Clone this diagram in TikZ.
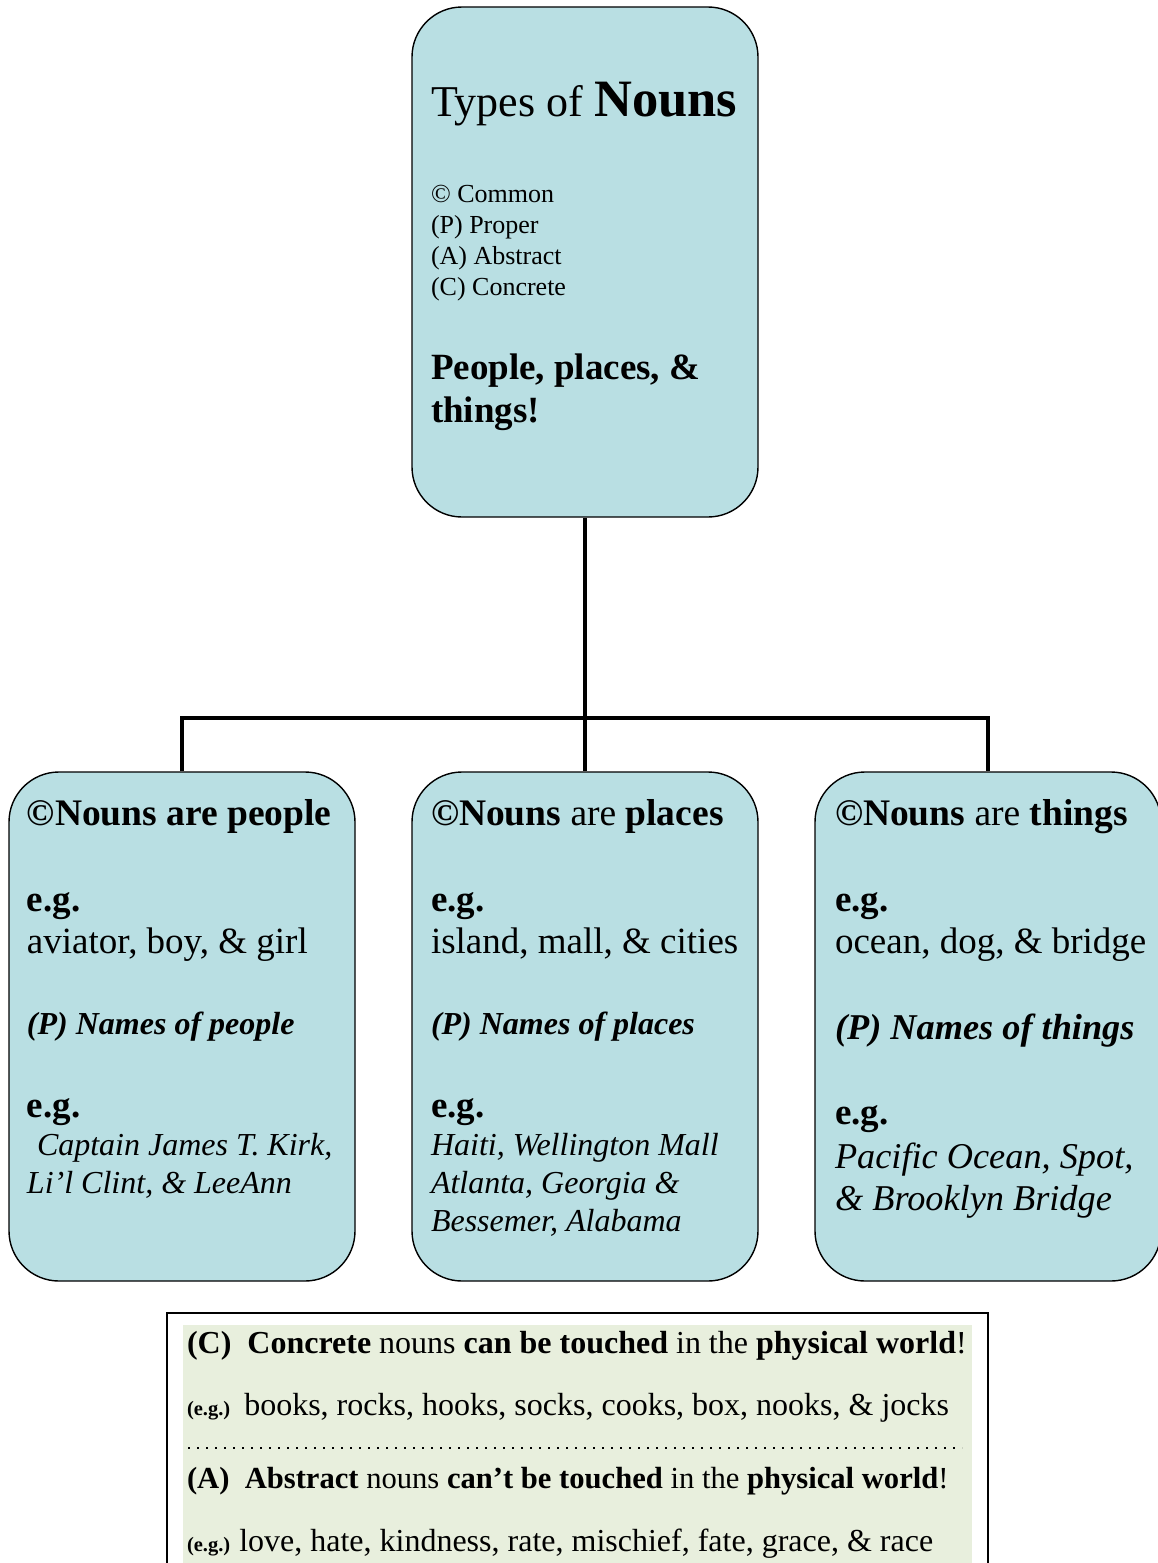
\documentclass[tikz,border=0pt]{standalone}
\usepackage{fontspec}
\setmainfont{Liberation Serif}
\usetikzlibrary{positioning}

\definecolor{nounblue}{RGB}{185,223,227}
\definecolor{notegreen}{RGB}{232,239,221}

\newcommand{\fs}[1]{\fontsize{#1}{#1}\selectfont}

\tikzset{
  nounbox/.style={draw, line width=1.4pt, fill=nounblue, rounded corners=50pt,
    minimum width=346pt, inner sep=0pt},
  branch/.style={line width=4pt},
  txt/.style={anchor=base west, inner sep=0pt, outer sep=0pt},
}

\begin{document}
\begin{tikzpicture}[x=1pt,y=-1pt]
    \useasboundingbox (0,0) rectangle (1157,1563);

    % the four boxes
    \node[nounbox, minimum height=510pt] (types)  at (585,262)    {};
    \node[nounbox, minimum height=509pt] (people) at (182,1026.5) {};
    \node[nounbox, minimum height=509pt] (places) at (585,1026.5) {};
    \node[nounbox, minimum height=509pt] (things) at (988,1026.5) {};

    % tree lines
    \coordinate (split) at (585,718);
    \draw[branch] (types.south) -- (split);
    \draw[branch] (people.north) |- (split) -| (things.north);
    \draw[branch] (split) -- (places.north);

    % top box
    \node[txt] (title) at (431,116) {\fs{44}Types of \fs{52.5}\bfseries Nouns};
    \foreach \kind [count=\i] in {\textcopyright\ Common, (P) Proper, (A) Abstract, (C) Concrete}
      \node[txt] (kind\i) at (431,171+31*\i) {\fs{26}\kind};
    \node[txt] (slogan1) at (431,379) {\fs{37}\bfseries People, places, \&};
    \node[txt] (slogan2) at (431,422) {\fs{37}\bfseries things!};

    % people
    \node[txt] (peoplehead) at (27,825)  {\fs{37.5}\bfseries \textcopyright Nouns are people};
    \node[txt] (peopleeg)   at (27,911)  {\fs{37}\bfseries e.g.};
    \node[txt] (peoplecom)  at (27,953)  {\fs{37}aviator, boy, \& girl};
    \node[txt] (peoplepro)  at (27,1034) {\fs{32}\bfseries\itshape (P) Names of people};
    \node[txt] (peopleeg2)  at (27,1117) {\fs{37}\bfseries e.g.};
    \node[txt] (peoplenam1) at (37,1155) {\fs{32}\itshape Captain James T. Kirk,};
    \node[txt] (peoplenam2) at (27,1193) {\fs{32}\itshape Li’l Clint, \& LeeAnn};

    % places
    \node[txt] (placeshead) at (431,825)  {\fs{37.5}\bfseries \textcopyright Nouns \mdseries are \bfseries places};
    \node[txt] (placeseg)   at (431,911)  {\fs{37}\bfseries e.g.};
    \node[txt] (placescom)  at (431,953)  {\fs{37}island, mall, \& cities};
    \node[txt] (placespro)  at (431,1034) {\fs{32}\bfseries\itshape (P) Names of places};
    \node[txt] (placeseg2)  at (431,1117) {\fs{37}\bfseries e.g.};
    \node[txt] (placesnam1) at (431,1155) {\fs{32}\itshape Haiti, Wellington Mall};
    \node[txt] (placesnam2) at (431,1193) {\fs{32}\itshape Atlanta, Georgia \&};
    \node[txt] (placesnam3) at (431,1231) {\fs{32}\itshape Bessemer, Alabama};

    % things
    \node[txt] (thingshead) at (835,825)  {\fs{37.5}\bfseries \textcopyright Nouns \mdseries are \bfseries things};
    \node[txt] (thingseg)   at (835,911)  {\fs{37}\bfseries e.g.};
    \node[txt] (thingscom)  at (835,953)  {\fs{37}ocean, dog, \& bridge};
    \node[txt] (thingspro)  at (835,1039) {\fs{36.3}\bfseries\itshape (P) Names of things};
    \node[txt] (thingseg2)  at (835,1124) {\fs{37}\bfseries e.g.};
    \node[txt] (thingsnam1) at (835,1168) {\fs{36.3}\itshape Pacific Ocean, Spot,};
    \node[txt] (thingsnam2) at (835,1210) {\fs{36.3}\itshape \& Brooklyn Bridge};

    % note at the bottom
    \draw[line width=1.4pt, fill=white] (167,1313) rectangle (988,1600);
    \fill[notegreen] (183,1325) rectangle (972,1600);
    \draw[line width=1.6pt, dash pattern=on 1.6pt off 7.4pt] (188,1448) -- (962,1448);
    \node[txt] (concrete) at (187,1353)
      {\fs{32}\textbf{(C)\ \ Concrete} nouns \textbf{can be touched} in the \textbf{physical world}!};
    \node[txt] (concreteeg) at (187,1415)
      {\fs{20.5}\textbf{(e.g.)}\hspace{14pt}\fs{32}books, rocks, hooks, socks, cooks, box, nooks, \& jocks};
    \node[txt] (abstract) at (187,1488)
      {\fs{30.6}\textbf{(A)\ \ Abstract} nouns \textbf{can’t be touched} in the \textbf{physical world}!};
    \node[txt] (abstracteg) at (187,1551)
      {\fs{20.5}\textbf{(e.g.)}\hspace{9pt}\fs{32}love, hate, kindness, rate, mischief, fate, grace, \& race};
\end{tikzpicture}
\end{document}
